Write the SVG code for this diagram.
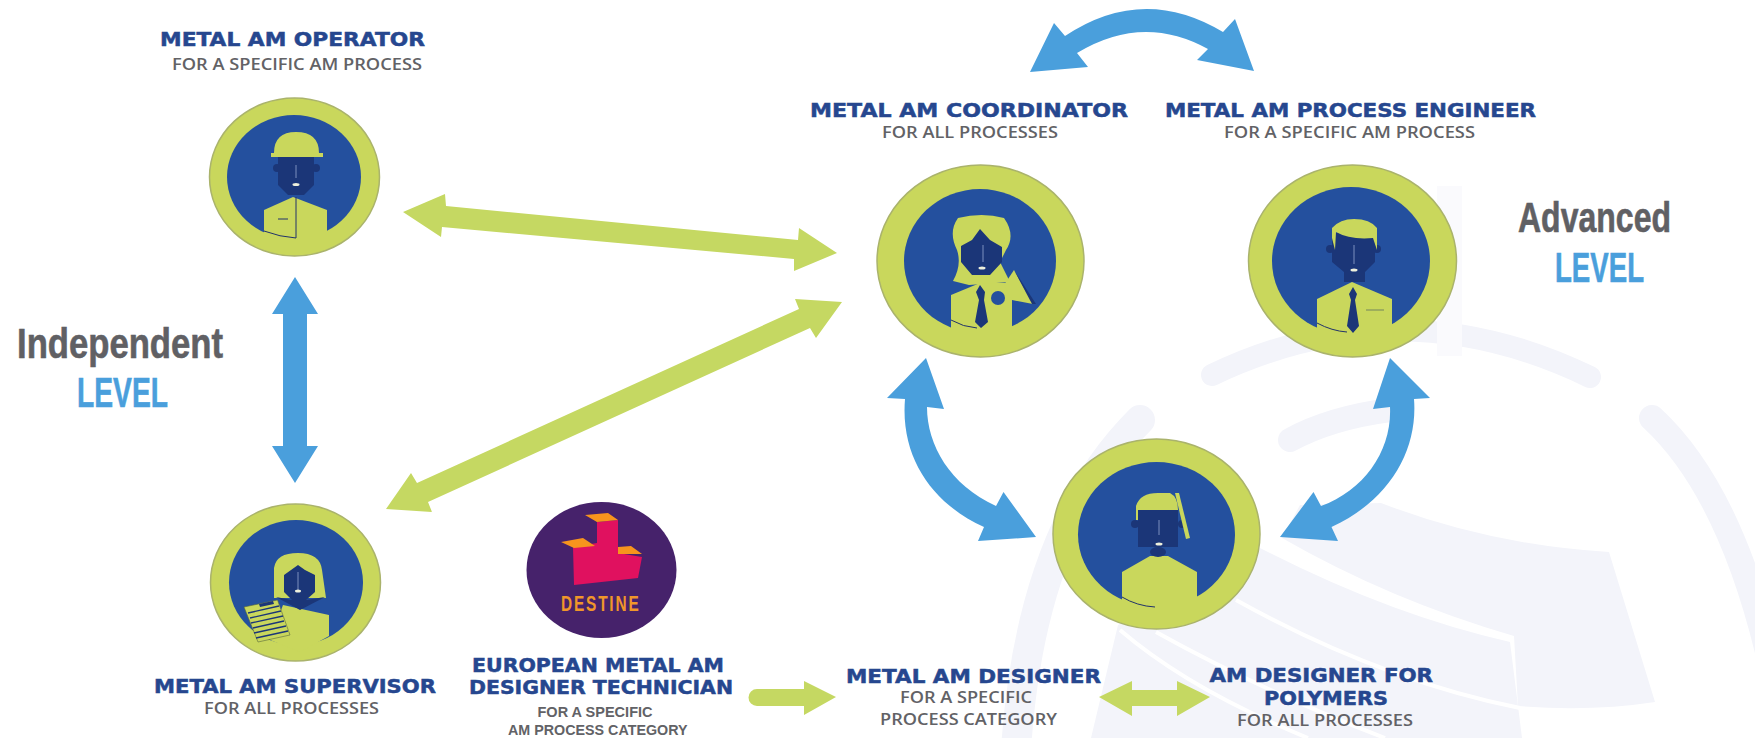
<svg xmlns="http://www.w3.org/2000/svg" width="1755" height="738" viewBox="0 0 1755 738">
<style>
.ring{fill:#c9d75c;stroke:#aab36c;stroke-width:1.5}
.disc{fill:#24509e}
.lime{fill:#c9d75c}
.face{fill:#1b3678}
.gap{fill:none;stroke:#fff;stroke-width:4}
.wm{fill:#f3f4fa}
.wms{fill:none;stroke:#f3f4fa;stroke-linecap:round}
.nose{stroke:#7d8fbe;stroke-width:1;fill:none}
.mouth{fill:#eef0dc}
.thin{fill:none;stroke:#22336a;stroke-width:1}
.arL{fill:#c5d862}
.arB{fill:#4a9fdc}
.h{font:bold 19px "DejaVu Sans",sans-serif;fill:#26478f;stroke:#26478f;stroke-width:.5}
.s{font:600 16.5px "Open Sans","Liberation Sans",sans-serif;fill:#626266}
.s2{font:bold 15.5px "Liberation Sans",sans-serif;fill:#626266}
.big{font:bold 42px "Liberation Sans",sans-serif;fill:#606064;stroke:#606064;stroke-width:.6}
.lv{font:bold 42px "Liberation Sans",sans-serif;fill:#4a9fdc;stroke:#4a9fdc;stroke-width:.6}
</style>
<rect width="1755" height="738" fill="#fff"/>
<g id="watermark">
<path class="wms" stroke-width="22" d="M1212,375 Q1400,285 1590,377"/>
<path class="wms" stroke-width="24" d="M1290,440 Q1330,418 1390,410"/>
<path class="wms" stroke-width="26" d="M1652,418 Q1730,490 1770,660"/>
<path class="wms" stroke-width="30" d="M1140,420 Q1030,530 1016,750"/>
<rect x="1437" y="186" width="25" height="170" fill="#fafafd"/>
<path class="wm" d="M1381,503 Q1490,545 1609,552 L1655,702 Q1590,712 1518,706 L1514,636 Q1390,600 1282,538 L1300,505 Z"/>
<path class="wm" d="M1118,625 L1260,548 Q1390,615 1510,642 L1522,738 L1091,738 Z"/>
<path class="gap" d="M1236,600 Q1380,680 1520,708"/>
<path class="gap" d="M1156,632 Q1260,690 1385,738"/>
<path class="gap" d="M1120,630 Q1190,690 1308,738"/>
</g>
<g id="connectors">
<path class="arB" d="M1030,72 L1054,23 L1065,36 Q1143,-16 1223,32 L1235,19 L1254,71 L1197,60 L1208,49 Q1143,13 1077,53 L1088,67 Z"/>
<path class="arL" d="M403,212 L445,194 L446,206 L798,240 L799,228 L837,253 L794,271 L794,259 L442,227 L441,237 Z"/>
<path class="arL" d="M842,302 L795,299 L799,309 L417,483 L411,473 L386,509 L432,512 L428,502 L810,328 L816,338 Z"/>
<path class="arB" d="M926,358 L944,409 L927,407 C927,445 950,485 996,506 L1003.500,492 L1036,537 L978,541 L984,527 C935,505 900,460 905,399 L887,398 Z"/>
<path class="arB" d="M1390,358 L1430,398 L1414,399 C1418,450 1390,500 1331.500,527 L1338,541 L1280,537 L1313.500,492 L1321,506 C1365,490 1392,450 1390,407 L1373,409 Z"/>
<path class="arB" d="M295,277 L318,314 L307,314 L307,446 L318,446 L295,483 L272,446 L283,446 L283,314 L272,314 Z"/>
<path class="arL" d="M757,689 L804,689 L804,681 L836,697 L804,715 L804,706 L757,706 A8.500,8.500 0 0 1 757,689 Z"/>
<path class="arL" d="M1099,697 L1132,681 L1132,690 L1177,690 L1177,681 L1210,697 L1177,716 L1177,706 L1132,706 L1132,716 Z"/>
</g>
<g id="operator">
<ellipse class="ring" cx="294.500" cy="177" rx="85" ry="79"/>
<ellipse class="disc" cx="294" cy="177" rx="67" ry="62"/>
<path class="lime" d="M264,210 L293,197 L327,210 L327,245 L264,245 Z"/>
<circle class="face" cx="277" cy="168" r="4"/><circle class="face" cx="316" cy="168" r="4"/>
<path class="face" d="M278,157 H314 V185 L304,195 H288 L278,185 Z"/>
<path class="lime" d="M274,153 Q274,132 296,132 Q319,132 319,153 H323 V157 H271 V153 Z"/>
<path class="nose" d="M296,165 V178"/><ellipse class="mouth" cx="296" cy="184.500" rx="3.500" ry="1.500"/>
<path class="thin" d="M296,197 V238 M278,219 H288 M264,231 Q280,237 296,238"/>
</g>
<g id="coordinator">
<ellipse class="ring" cx="980.500" cy="261" rx="103.500" ry="96"/>
<ellipse class="disc" cx="980" cy="261" rx="76" ry="72"/>
<path class="lime" d="M951,295 L980,283 L1012,283 L1012,345 L951,345 Z"/>
<path class="lime" d="M958,218 Q982,212 1004,218 Q1016,235 1006,250 L1000,262 L1010,282 L969,285 L953,281 Q962,265 957,250 Q948,232 958,218 Z"/>
<path class="face" d="M980,229 L990,240 L1002,247 L1002,262 L990,275 H972 L961,262 V246 L972,240 Z"/>
<path class="nose" d="M983,245 V262"/><ellipse class="mouth" cx="982" cy="268" rx="3.500" ry="1.500"/>
<path class="face" d="M980,285 L985,292 L984,300 L988,322 L981,328 L975,322 L979,300 L976,292 Z"/>
<path class="lime" d="M1014,270 L1033,304 L1012,300 L1004,285 Z"/>
<path class="face" d="M1014,270 L1036,304 L1032,304 Z"/>
<circle cx="998" cy="298" r="7" fill="#24509e"/>
<path class="thin" d="M951,320 Q963,327 977,328"/>
</g>
<g id="engineer">
<ellipse class="ring" cx="1352.500" cy="261" rx="104" ry="96"/>
<ellipse class="disc" cx="1351" cy="261" rx="79" ry="74"/>
<path class="lime" d="M1317,299 L1352,282 L1392,299 L1392,345 L1317,345 Z"/>
<circle class="face" cx="1330" cy="249" r="4"/><circle class="face" cx="1377" cy="249" r="4"/>
<path class="face" d="M1332,233 H1375 V262 L1365,272 V282 H1344 V272 L1332,262 Z"/>
<path class="lime" d="M1332,238 V228 Q1340,219 1354,219 Q1370,219 1377,228 V250 L1373,238 Q1350,240 1336,232 L1335,250 Z"/>
<path class="nose" d="M1354,245 V264"/><ellipse class="mouth" cx="1354" cy="270" rx="3.500" ry="1.500"/>
<path class="face" d="M1353,287 L1357,294 L1355,300 L1359,326 L1353,333 L1347,326 L1351,300 L1349,294 Z"/>
<path d="M1366,310 H1384" stroke="#8fa05c" stroke-width="1.500" fill="none"/>
<path class="thin" d="M1317,323 Q1332,331 1347,332"/>
</g>
<g id="supervisor">
<ellipse class="ring" cx="295.500" cy="582.500" rx="85" ry="78.500"/>
<ellipse class="disc" cx="296" cy="582.500" rx="67" ry="62.500"/>
<path class="lime" d="M283,605 L329,615 V636 L300,652 L270,640 Z"/>
<path class="lime" d="M274,598 V568 Q276,553 298,553 Q320,553 322,570 L326,598 Z"/>
<path class="face" d="M276,597 L292,600 L284,592 V575 L298,565 L305,570 L315,575 V592 L306,600 L325,597 L300,610 Z"/>
<path class="nose" d="M298,572 V590"/><ellipse class="mouth" cx="298" cy="591" rx="3" ry="1.500"/>
<path class="lime" d="M244,607 L277.500,600 L290,635 L258,642 Z" stroke="#5a6a3c" stroke-width=".6"/>
<path class="face" d="M259,604 L273,601 L274,604 L260,607 Z"/>
<path d="M248,613 L279,606 M250,618 L281,611 M251,623 L283,616 M253,628 L284,621 M254,633 L286,626 M256,638 L288,631" stroke="#1b3678" stroke-width="1.400" fill="none"/>
</g>
<g id="destine">
<ellipse cx="601.500" cy="570" rx="75" ry="68" fill="#46226b"/>
<path d="M597,522 L618,520 V553 L642,557 L638,578 L574,585 L573,547 L597,543 Z" fill="#e0115f"/>
<path d="M585,515 L608,513 L618,520 L597,522 Z M561,542 L583,538 L595,546 L574,548 Z M618,547 L631,546 L642,554 L618,554 Z" fill="#f7941d"/>
<text transform="translate(561,611) scale(.7,1)" textLength="111" lengthAdjust="spacing" font-family="'Liberation Sans',sans-serif" font-weight="bold" font-size="22" fill="#f0962a">DESTINE</text>
</g>
<g id="designer">
<ellipse class="ring" cx="1156.500" cy="534" rx="103.500" ry="95"/>
<ellipse class="disc" cx="1156.500" cy="534.500" rx="78.500" ry="72.500"/>
<path class="lime" d="M1122,572 L1150,556 H1168 L1197,572 V615 H1122 Z"/>
<circle class="face" cx="1135" cy="524" r="4"/><circle class="face" cx="1182" cy="524" r="4"/>
<ellipse class="face" cx="1158" cy="552" rx="8" ry="5"/>
<path class="face" d="M1138,510 H1178 V547 H1138 Z"/>
<path class="lime" d="M1136,520 V506 Q1140,493 1158,493 H1170 Q1178,497 1178,510 H1138 V520 Z"/>
<path class="lime" d="M1175,493 L1179,493 L1190,538 L1186,539 Z"/>
<path class="nose" d="M1159,520 V535"/><ellipse class="mouth" cx="1159" cy="544" rx="3.500" ry="1.500"/>
<path class="thin" d="M1122,597 Q1137,606 1155,607"/>
</g>
<g id="labels">
<text class="h" x="160" y="46" textLength="265" lengthAdjust="spacingAndGlyphs">METAL AM OPERATOR</text>
<text class="s" x="172" y="70" textLength="250" lengthAdjust="spacingAndGlyphs">FOR A SPECIFIC AM PROCESS</text>
<text class="h" x="810" y="116.500" textLength="318" lengthAdjust="spacingAndGlyphs">METAL AM COORDINATOR</text>
<text class="s" x="882" y="138" textLength="176" lengthAdjust="spacingAndGlyphs">FOR ALL PROCESSES</text>
<text class="h" x="1165" y="116.500" textLength="371" lengthAdjust="spacingAndGlyphs">METAL AM PROCESS ENGINEER</text>
<text class="s" x="1224" y="138" textLength="251" lengthAdjust="spacingAndGlyphs">FOR A SPECIFIC AM PROCESS</text>
<text class="big" x="17" y="358" textLength="206" lengthAdjust="spacingAndGlyphs">Independent</text>
<text class="lv" x="77" y="407" textLength="91" lengthAdjust="spacingAndGlyphs">LEVEL</text>
<text class="big" x="1518" y="232" textLength="153" lengthAdjust="spacingAndGlyphs">Advanced</text>
<text class="lv" x="1555" y="282" textLength="89" lengthAdjust="spacingAndGlyphs">LEVEL</text>
<text class="h" x="154" y="693" textLength="282" lengthAdjust="spacingAndGlyphs">METAL AM SUPERVISOR</text>
<text class="s" x="204" y="714" textLength="175" lengthAdjust="spacingAndGlyphs">FOR ALL PROCESSES</text>
<text class="h" x="472" y="672" textLength="252" lengthAdjust="spacingAndGlyphs">EUROPEAN METAL AM</text>
<text class="h" x="469" y="694" textLength="264" lengthAdjust="spacingAndGlyphs">DESIGNER TECHNICIAN</text>
<text class="s2" x="537.500" y="717" textLength="115" lengthAdjust="spacingAndGlyphs">FOR A SPECIFIC</text>
<text class="s2" x="508" y="735" textLength="179.500" lengthAdjust="spacingAndGlyphs">AM PROCESS CATEGORY</text>
<text class="h" x="846" y="683" textLength="255" lengthAdjust="spacingAndGlyphs">METAL AM DESIGNER</text>
<text class="s" x="900" y="703" textLength="132" lengthAdjust="spacingAndGlyphs">FOR A SPECIFIC</text>
<text class="s" x="880" y="725" textLength="177" lengthAdjust="spacingAndGlyphs">PROCESS CATEGORY</text>
<text class="h" x="1209.500" y="682" textLength="223.500" lengthAdjust="spacingAndGlyphs">AM DESIGNER FOR</text>
<text class="h" x="1264" y="705" textLength="124" lengthAdjust="spacingAndGlyphs">POLYMERS</text>
<text class="s" x="1237" y="726" textLength="176" lengthAdjust="spacingAndGlyphs">FOR ALL PROCESSES</text>
</g>
</svg>
